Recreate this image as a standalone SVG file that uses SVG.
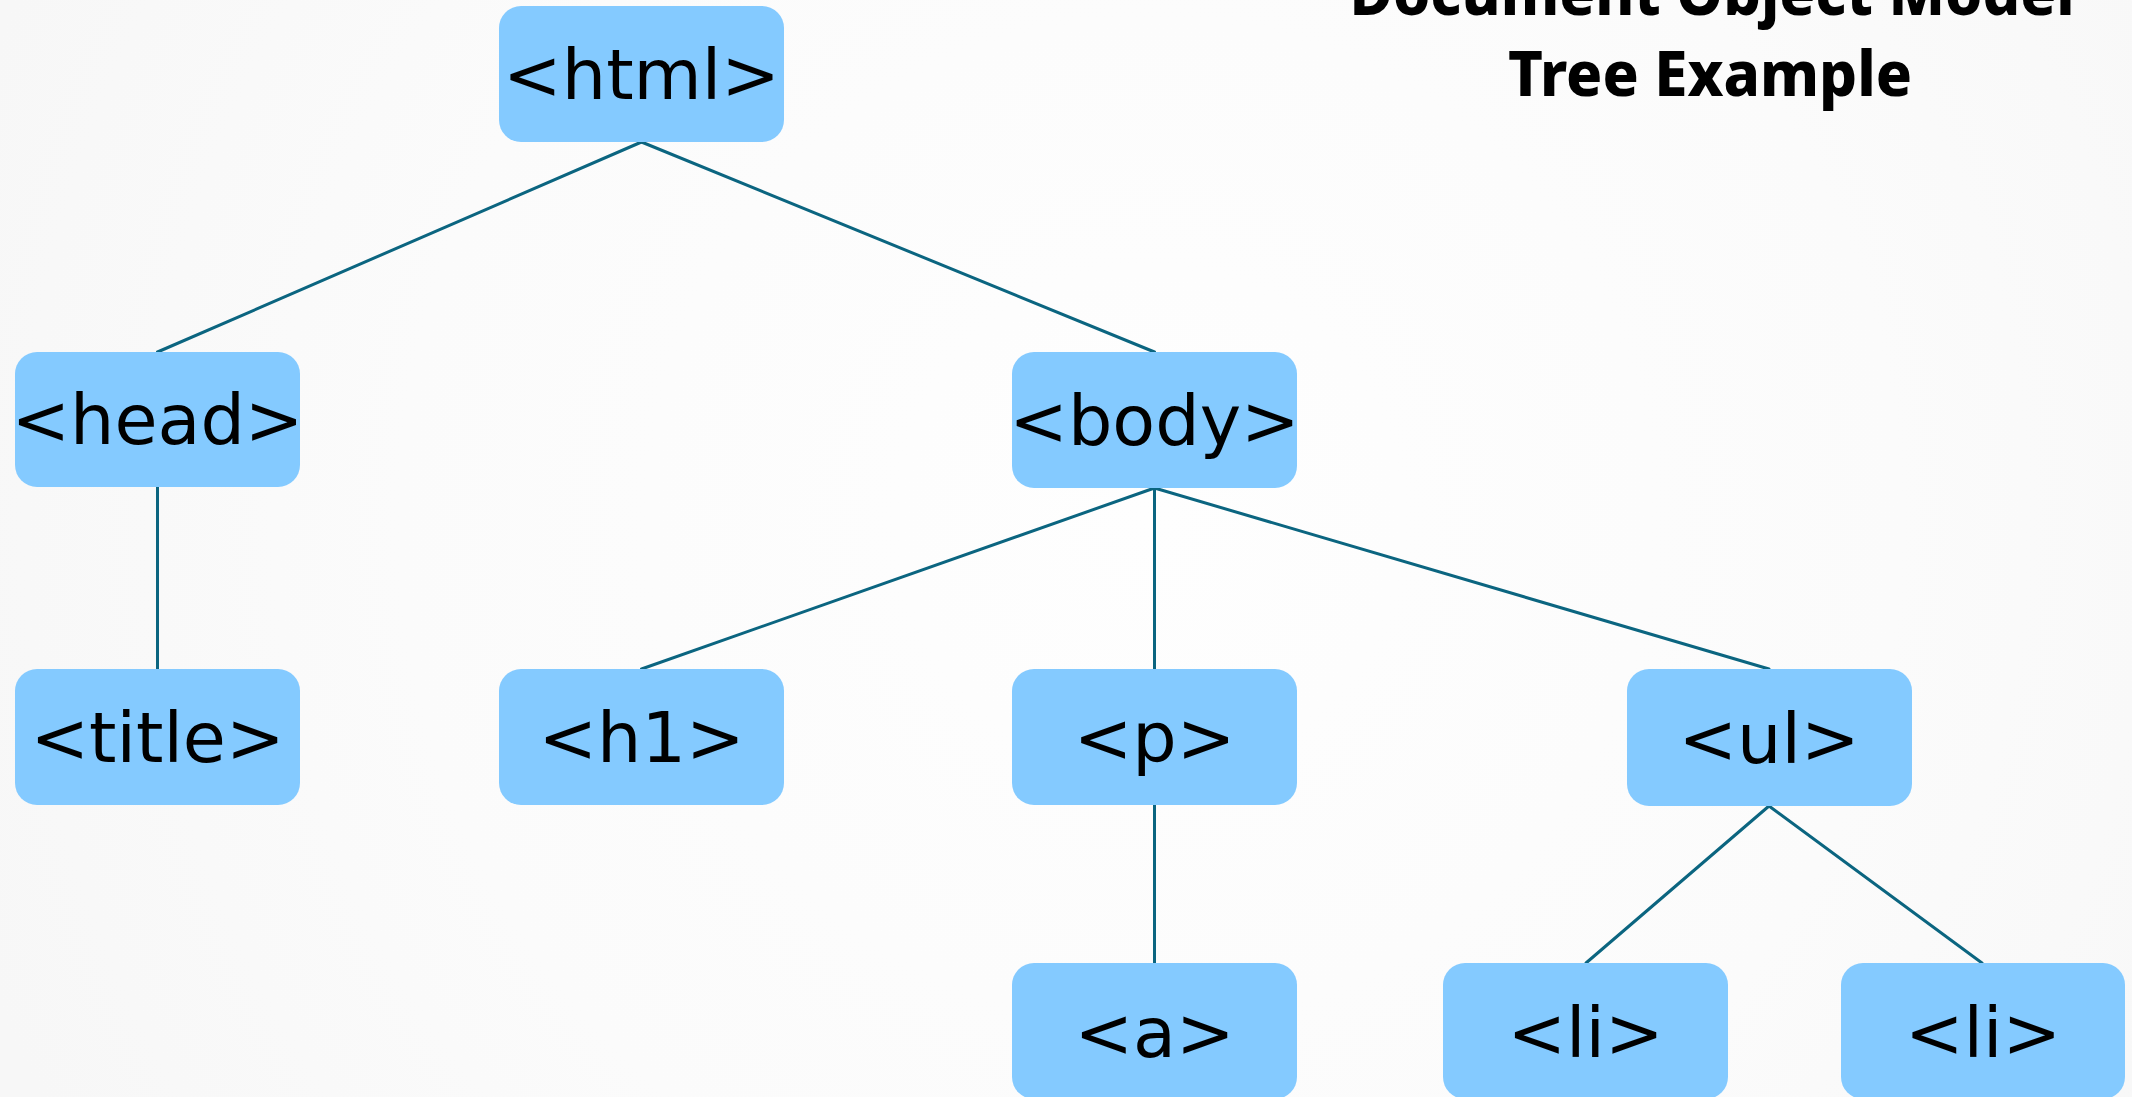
<svg xmlns="http://www.w3.org/2000/svg" width="2132" height="1097" viewBox="0 0 2132 1097">
  <defs>
    <radialGradient id="bg" cx="1150" cy="520" r="1250" gradientUnits="userSpaceOnUse">
      <stop offset="0" stop-color="#fefefe"/>
      <stop offset="0.6" stop-color="#fbfbfb"/>
      <stop offset="1" stop-color="#f7f7f7"/>
    </radialGradient>
    <style>
      .node rect { fill: #84caff; }
      .node text { font-family: "DejaVu Sans", sans-serif; font-size: 70px; fill: #000; text-anchor: middle; }
      .edges line { stroke: #0b6580; stroke-width: 3; stroke-linecap: round; }
      .title { font-family: "Noto Sans", "Open Sans", sans-serif; font-weight: 800; font-size: 63px; fill: #000; text-anchor: middle; }
    </style>
  </defs>

  <rect width="2132" height="1097" fill="url(#bg)"/>

  <!-- heading -->
  <g id="heading">
    <text class="title" x="1712" y="15" textLength="725" lengthAdjust="spacingAndGlyphs">Document Object Model</text>
    <text class="title" x="1710" y="96" textLength="404" lengthAdjust="spacingAndGlyphs">Tree Example</text>
  </g>

  <!-- parent/child links -->
  <g id="edges" class="edges">
    <line x1="641.5" y1="142" x2="157.5" y2="352"/>
    <line x1="641.5" y1="142" x2="1154.5" y2="352"/>
    <line x1="157.5" y1="487" x2="157.5" y2="669"/>
    <line x1="1154.5" y1="488" x2="641.5" y2="669"/>
    <line x1="1154.5" y1="488" x2="1154.5" y2="669"/>
    <line x1="1154.5" y1="488" x2="1769" y2="669"/>
    <line x1="1154.5" y1="805" x2="1154.5" y2="963"/>
    <line x1="1769" y1="806" x2="1586" y2="963"/>
    <line x1="1769" y1="806" x2="1982" y2="963"/>
  </g>

  <g id="node-html" class="node">
    <rect x="499" y="6" width="285" height="136" rx="22"/>
    <text x="641.5" y="99">&lt;html&gt;</text>
  </g>
  <g id="node-head" class="node">
    <rect x="15" y="352" width="285" height="135" rx="22"/>
    <text x="157.5" y="444">&lt;head&gt;</text>
  </g>
  <g id="node-body" class="node">
    <rect x="1012" y="352" width="285" height="136" rx="22"/>
    <text x="1154.5" y="445">&lt;body&gt;</text>
  </g>
  <g id="node-title" class="node">
    <rect x="15" y="669" width="285" height="136" rx="22"/>
    <text x="157.5" y="762">&lt;title&gt;</text>
  </g>
  <g id="node-h1" class="node">
    <rect x="499" y="669" width="285" height="136" rx="22"/>
    <text x="641.5" y="762">&lt;h1&gt;</text>
  </g>
  <g id="node-p" class="node">
    <rect x="1012" y="669" width="285" height="136" rx="22"/>
    <text x="1154.5" y="762">&lt;p&gt;</text>
  </g>
  <g id="node-ul" class="node">
    <rect x="1627" y="669" width="285" height="137" rx="22"/>
    <text x="1769" y="763">&lt;ul&gt;</text>
  </g>
  <g id="node-a" class="node">
    <rect x="1012" y="963" width="285" height="136" rx="22"/>
    <text x="1154.5" y="1057">&lt;a&gt;</text>
  </g>
  <g id="node-li-1" class="node">
    <rect x="1443" y="963" width="285" height="136" rx="22"/>
    <text x="1585.5" y="1057">&lt;li&gt;</text>
  </g>
  <g id="node-li-2" class="node">
    <rect x="1841" y="963" width="284" height="136" rx="22"/>
    <text x="1983" y="1057">&lt;li&gt;</text>
  </g>
</svg>
